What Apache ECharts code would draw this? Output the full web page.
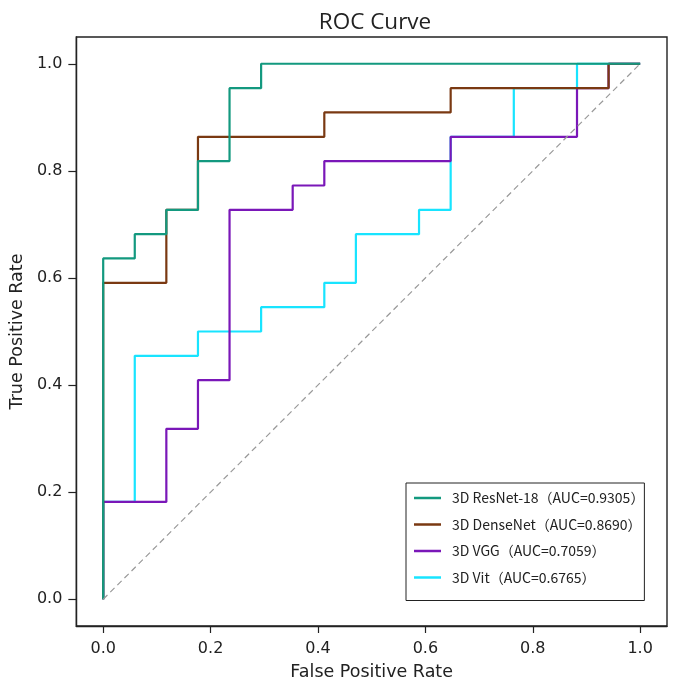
<!DOCTYPE html>
<html>
<head>
<meta charset="utf-8">
<script src="https://cdn.jsdelivr.net/npm/echarts@6/dist/echarts.min.js"></script>
<style>
  html, body { margin: 0; padding: 0; background: #fff; }
  #chart { width: 685px; height: 688px; }
</style>
</head>
<body>
<div id="chart"></div>
<script>
// ROC 曲线数据（FPR / TPR 拐点）
const names = [
  "3D ResNet-18（AUC=0.9305）",
  "3D DenseNet（AUC=0.8690）",
  "3D VGG（AUC=0.7059）",
  "3D Vit（AUC=0.6765）",
];
const colors = ["#13997f", "#7a3912", "#7a17b8", "#18e4ff"];

const resnetFpr = [0, 0, 0.0588, 0.0588, 0.1176, 0.1176, 0.1765, 0.1765, 0.2353, 0.2353, 0.2941, 0.2941, 1];
const resnetTpr = [0, 0.6364, 0.6364, 0.6818, 0.6818, 0.7273, 0.7273, 0.8182, 0.8182, 0.9545, 0.9545, 1, 1];

const densenetFpr = [0, 0, 0.1176, 0.1176, 0.1765, 0.1765, 0.4118, 0.4118, 0.6471, 0.6471, 0.9412, 0.9412, 1];
const densenetTpr = [0, 0.5909, 0.5909, 0.7273, 0.7273, 0.8636, 0.8636, 0.9091, 0.9091, 0.9545, 0.9545, 1, 1];

const vggFpr = [0, 0, 0.1176, 0.1176, 0.1765, 0.1765, 0.2353, 0.2353, 0.3529, 0.3529, 0.4118, 0.4118, 0.6471, 0.6471, 0.8824, 0.8824, 0.9412, 0.9412, 1];
const vggTpr = [0, 0.1818, 0.1818, 0.3182, 0.3182, 0.4091, 0.4091, 0.7273, 0.7273, 0.7727, 0.7727, 0.8182, 0.8182, 0.8636, 0.8636, 0.9545, 0.9545, 1, 1];

const vitFpr = [0, 0, 0.0588, 0.0588, 0.1765, 0.1765, 0.2941, 0.2941, 0.4118, 0.4118, 0.4706, 0.4706, 0.5882, 0.5882, 0.6471, 0.6471, 0.7647, 0.7647, 0.8824, 0.8824, 1];
const vitTpr = [0, 0.1818, 0.1818, 0.4545, 0.4545, 0.5, 0.5, 0.5455, 0.5455, 0.5909, 0.5909, 0.6818, 0.6818, 0.7273, 0.7273, 0.8636, 0.8636, 0.9545, 0.9545, 1, 1];

const chanceFpr = [0, 1];
const chanceTpr = [0, 1];

const tickValues = [0, 0.2, 0.4, 0.6, 0.8, 1.0];

function zip(xs, ys) {
  return xs.map((x, i) => [x, ys[i]]);
}

function rocSeries(name, color, xs, ys) {
  return {
    name: name,
    type: "line",
    symbol: "none",
    color: color,
    lineStyle: { color: color, width: 2.2 },
    data: zip(xs, ys),
  };
}

let chartDom = document.getElementById("chart");
let myChart = echarts.init(chartDom);

const tickFont = { fontFamily: "DejaVu Sans", fontSize: 16, color: "#222" };
const nameFont = { fontFamily: "DejaVu Sans", fontSize: 17.5, color: "#222" };

let option = {
  animation: false,
  backgroundColor: "#fff",
  title: {
    text: "ROC Curve",
    left: 370,
    top: 6,
    textAlign: "center",
    textStyle: { fontFamily: "Open Sans", fontSize: 22.5, fontWeight: "normal", color: "#222" },
  },
  grid: {
    left: 76,
    right: 18,
    top: 37,
    bottom: 62,
    show: true,
    borderColor: "#222",
    borderWidth: 1.4,
  },
  legend: {
    data: names,
    orient: "vertical",
    left: 406,
    top: 483,
    padding: [8, 0, 16, 8],
    itemGap: 12.5,
    itemWidth: 27,
    itemHeight: 2.5,
    icon: "rect",
    borderColor: "#222",
    borderWidth: 1,
    backgroundColor: "#fff",
    textStyle: {
      fontFamily: "Noto Sans CJK SC",
      fontSize: 14,
      color: "#222",
      lineHeight: 14,
      padding: [0, 0, 0, 6],
    },
  },
  xAxis: {
    type: "value",
    min: -0.05,
    max: 1.05,
    name: "False Positive Rate",
    nameLocation: "middle",
    nameGap: 37,
    nameTextStyle: nameFont,
    axisLine: { show: true, onZero: false, lineStyle: { color: "#222", width: 1.4 } },
    axisTick: { show: true, length: 7, customValues: tickValues, lineStyle: { color: "#222", width: 1.2 } },
    axisLabel: {
      customValues: tickValues,
      formatter: (v) => v.toFixed(1),
      margin: 15,
      ...tickFont,
    },
    splitLine: { show: false },
  },
  yAxis: {
    type: "value",
    min: -0.05,
    max: 1.05,
    name: "True Positive Rate",
    nameLocation: "middle",
    nameGap: 50,
    nameTextStyle: nameFont,
    axisLine: { show: true, onZero: false, lineStyle: { color: "#222", width: 1.4 } },
    axisTick: { show: true, length: 8, customValues: tickValues, lineStyle: { color: "#222", width: 1.2 } },
    axisLabel: {
      customValues: tickValues,
      formatter: (v) => v.toFixed(1),
      margin: 14,
      ...tickFont,
    },
    splitLine: { show: false },
  },
  series: [
    rocSeries(names[3], colors[3], vitFpr, vitTpr),
    rocSeries(names[2], colors[2], vggFpr, vggTpr),
    rocSeries(names[1], colors[1], densenetFpr, densenetTpr),
    rocSeries(names[0], colors[0], resnetFpr, resnetTpr),
    {
      name: "chance",
      type: "line",
      symbol: "none",
      lineStyle: { color: "#999", width: 1.2, type: [6, 4] },
      data: zip(chanceFpr, chanceTpr),
    },
  ],
};

option && myChart.setOption(option);
</script>
</body>
</html>
